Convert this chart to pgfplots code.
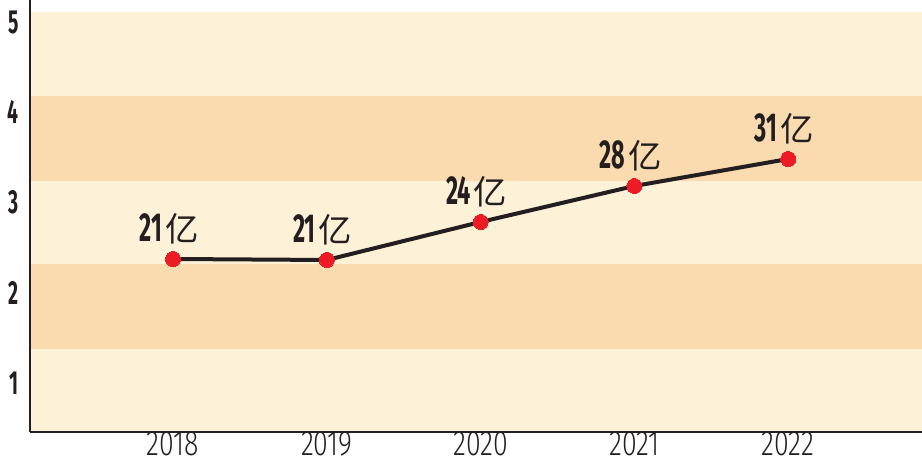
\documentclass[border=0pt]{standalone}
\usepackage{pgfplots}
\pgfplotsset{compat=1.18}
\usepackage{fontspec}
\setmainfont{Fira Sans}
\newfontfamily\yearfont[FakeStretch=0.76]{Fira Sans Light}
\newfontfamily\condfont[FakeStretch=0.58]{Fira Sans}
\newfontfamily\cjk{Noto Sans CJK SC}
\definecolor{bandlight}{HTML}{FDF1D7}
\definecolor{banddark}{HTML}{FADBAF}
\definecolor{dotred}{HTML}{ED1C24}
\definecolor{ink}{HTML}{231F20}
\begin{document}
\begin{tikzpicture}
\begin{axis}[
    scale only axis,
    width=17.84cm, height=8.64cm,
    xmin=2017.07, xmax=2022.87,
    ymin=0.457, ymax=5.244,
    axis lines=left,
    axis line style={-, draw=ink, line width=0.05cm},
    axis on top,
    major tick length=0pt,
    xtick={2018,2019,2020,2021,2022},
    xticklabels={2018,2019,2020,2021,2022},
    ytick={1,2,3,4,5},
    yticklabels={1,2,3,4,5},
    xticklabel style={font=\fontsize{20}{20}\yearfont, text=ink, inner sep=0pt,
                      text depth=0pt, yshift=0.02cm},
    yticklabel style={font=\fontsize{19}{19}\condfont\bfseries, text=ink, inner sep=0pt, xshift=-0.22cm},
    point meta=explicit symbolic,
    nodes near coords={\fontsize{23}{23}\condfont\bfseries\pgfplotspointmeta\kern0.06cm\fontsize{19}{19}\cjk\mdseries 亿},
    nodes near coords style={anchor=center, text=ink, yshift=0.6cm, xshift=-0.08cm},
]
% background bands
\fill[bandlight] (axis cs:2017.07,0.457) rectangle (axis cs:2022.87,1.377);
\fill[banddark]  (axis cs:2017.07,1.377) rectangle (axis cs:2022.87,2.319);
\fill[bandlight] (axis cs:2017.07,2.319) rectangle (axis cs:2022.87,3.238);
\fill[banddark]  (axis cs:2017.07,3.238) rectangle (axis cs:2022.87,4.180);
\fill[bandlight] (axis cs:2017.07,4.180) rectangle (axis cs:2022.87,5.111);

\addplot[draw=ink, line width=0.08cm, mark=*, mark size=0.15cm,
         mark options={fill=dotred, draw=dotred, line width=0pt}]
coordinates {
  (2018,2.374) [21]
  (2019,2.363) [21]
  (2020,2.784) [24]
  (2021,3.183) [28]
  (2022,3.482) [31]
};
\coordinate (bl) at (rel axis cs:0,0);
\coordinate (tr) at (rel axis cs:1,1);
\end{axis}
\pgfresetboundingbox
\path (bl) ++(-0.6cm,-0.64cm) rectangle (tr);
\end{tikzpicture}
\end{document}
